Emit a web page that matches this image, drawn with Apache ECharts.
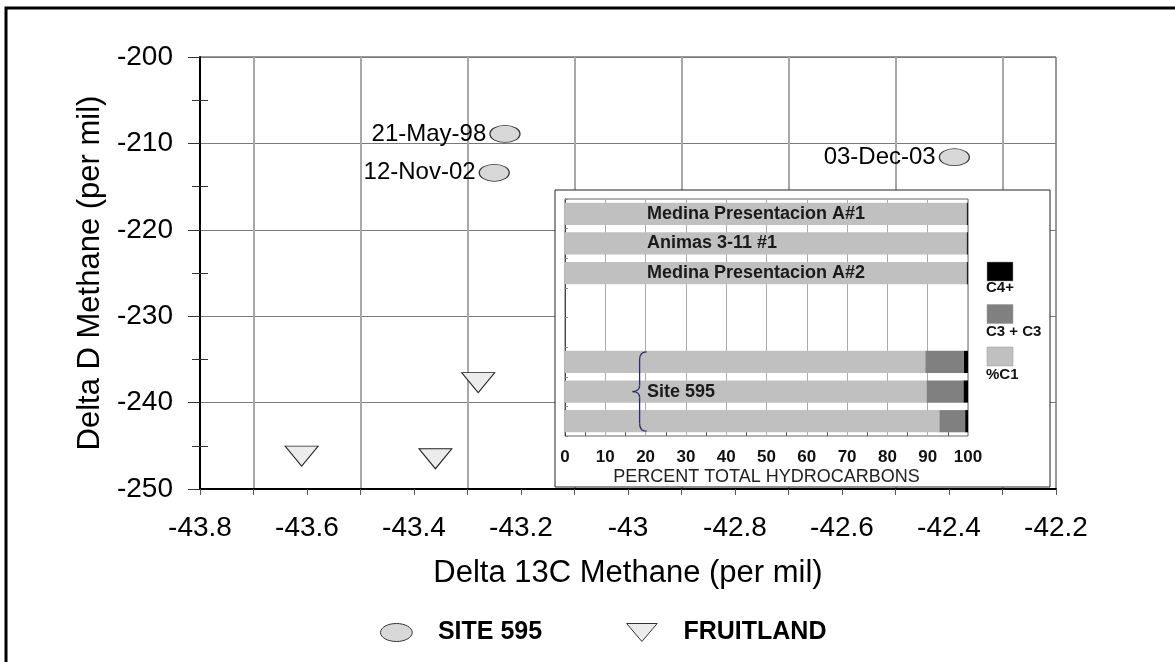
<!DOCTYPE html>
<html><head><meta charset="utf-8">
<script src="https://cdn.jsdelivr.net/npm/echarts@6/dist/echarts.min.js"></script>
<style>html,body{margin:0;padding:0;background:#fff}#c{width:1175px;height:662px}</style>
</head><body><div id="c"></div>
<script>
// Main scatter data
const siteNames = ['21-May-98', '12-Nov-02', '03-Dec-03'];
const siteX = [-43.23, -43.25, -42.39];
const siteY = [-208.9, -213.4, -211.6];
const fruitX = [-43.28, -43.61, -43.36];
const fruitY = [-237.7, -246.2, -246.5];
const seriesNames = ['SITE 595', 'FRUITLAND'];
// Main axes
const xMin = -43.8, xMax = -42.2, xStep = 0.2;
const yMin = -250, yMax = -200, yStep = 10;
// Inset bar chart data
const insetCats = ['Medina Presentacion A#1', 'Animas 3-11 #1', 'Medina Presentacion A#2', '', '', '', 'Site 595', ''];
const pctC1 = [99.6, 99.6, 99.6, null, null, 89.4, 89.7, 92.9];
const pctC3 = [0.2, 0.2, 0.2, null, null, 9.6, 9.2, 6.4];
const pctC4 = [0.2, 0.2, 0.2, null, null, 1.0, 1.1, 0.7];
const insetNames = ['%C1', 'C3 + C3', 'C4+'];
const insetColors = ['#c0c0c0', '#808080', '#000000'];
const slotIds = insetCats.map((c, i) => 'r' + i);

const FF = 'Liberation Sans, Arial, sans-serif';
const ELLIPSE = 'path://M0,8.5 C0,3.8 6.7,0 15,0 C23.3,0 30,3.8 30,8.5 C30,13.2 23.3,17 15,17 C6.7,17 0,13.2 0,8.5 Z';
const TRI_DOWN = 'path://M0,0 L34,0 L17,20 Z';
const chart = echarts.init(document.getElementById('c'));

const insetLegend = [];
[2, 1, 0].forEach((k, j) => {
  insetLegend.push({id: 'lgr' + k, type: 'rect', z: 3, shape: {x: 987, y: 262 + j * 42.5, width: 26, height: 19},
    style: {fill: insetColors[k], stroke: '#999', lineWidth: 0.5}});
  insetLegend.push({id: 'lgt' + k, type: 'text', z: 3, x: 986, y: 288 + j * 43.5,
    style: {text: insetNames[k], fontSize: 15, fontWeight: 'bold', fontFamily: FF, fill: '#111', verticalAlign: 'middle', align: 'left'}});
});

const option = {
  backgroundColor: '#fff',
  animation: false,
  textStyle: {fontFamily: FF},
  grid: [
    {left: 200, top: 57, width: 856, height: 432, show: true, borderColor: '#333', borderWidth: 1, backgroundColor: 'transparent', z: 0},
    {left: 565, top: 199, width: 403, height: 237, show: true, borderColor: '#666', borderWidth: 1, backgroundColor: 'transparent', z: 3}
  ],
  xAxis: [
    {gridIndex: 0, type: 'value', min: xMin, max: xMax, interval: xStep,
      axisLine: {lineStyle: {color: '#000', width: 2}},
      axisTick: {show: true, length: 6, lineStyle: {color: '#555'}},
      minorTick: {show: true, splitNumber: 2, length: 6, lineStyle: {color: '#555'}},
      splitLine: {show: false},
      minorSplitLine: {show: true, lineStyle: {color: '#a8a8a8', width: 2}},
      axisLabel: {fontSize: 28, margin: 25, color: '#000', fontFamily: FF},
      name: 'Delta 13C Methane (per mil)', nameLocation: 'middle', nameGap: 69,
      nameTextStyle: {fontSize: 31, color: '#000', fontFamily: FF}},
    {gridIndex: 1, type: 'value', min: 0, max: 100, interval: 10, z: 3,
      axisLine: {lineStyle: {color: '#444'}},
      axisTick: {inside: true, length: 4, lineStyle: {color: '#555'}},
      minorTick: {show: true, splitNumber: 2, length: 4, lineStyle: {color: '#555'}},
      splitLine: {show: true, lineStyle: {color: '#aaa'}},
      axisLabel: {fontSize: 17, fontWeight: 'bold', margin: 13, color: '#111', fontFamily: FF},
      name: 'PERCENT TOTAL HYDROCARBONS', nameLocation: 'middle', nameGap: 32,
      nameTextStyle: {fontSize: 18, color: '#222', fontFamily: FF}}
  ],
  yAxis: [
    {gridIndex: 0, type: 'value', position: 'left', min: yMin, max: yMax, interval: yStep,
      axisLine: {show: true, lineStyle: {color: '#000', width: 2}},
      axisTick: {show: true, length: 12, lineStyle: {color: '#333'}},
      minorTick: {show: true, splitNumber: 2, length: 8, lineStyle: {color: '#333'}},
      splitLine: {show: true, lineStyle: {color: '#7a7a7a', width: 1}},
      axisLabel: {fontSize: 28, margin: 27, color: '#000', fontFamily: FF},
      name: 'Delta D Methane (per mil)', nameLocation: 'middle', nameGap: 89,
      nameTextStyle: {fontSize: 31, color: '#000', fontFamily: FF}},
    {gridIndex: 0, type: 'value', position: 'left', min: yMin, max: yMax, interval: yStep,
      axisLine: {show: false}, axisTick: {show: false, inside: true},
      minorTick: {show: true, splitNumber: 2, length: 8, lineStyle: {color: '#333'}},
      splitLine: {show: false}, axisLabel: {show: false}},
    {gridIndex: 1, type: 'category', inverse: true, data: slotIds, z: 3,
      axisLabel: {show: false},
      axisTick: {show: true, inside: true, length: 3, lineStyle: {color: '#888'}},
      axisLine: {lineStyle: {color: '#444'}}}
  ],
  legend: {
    data: [{name: seriesNames[0], icon: ELLIPSE}, {name: seriesNames[1], icon: TRI_DOWN}],
    left: 380, top: 620, padding: 0, itemWidth: 33, itemHeight: 18, itemGap: 84,
    itemStyle: {borderColor: '#333', borderWidth: 1},
    textStyle: {fontSize: 25, fontWeight: 'bold', color: '#000', fontFamily: FF, padding: [0, 0, 0, 20]}
  },
  series: [
    {name: seriesNames[0], type: 'scatter', xAxisIndex: 0, yAxisIndex: 0, z: 5,
      symbol: 'circle', symbolSize: [30, 17],
      itemStyle: {color: '#d8d8d8', borderColor: '#333', borderWidth: 1, opacity: 1},
      label: {show: true, position: 'left', distance: 3, formatter: '{b}', fontSize: 24, color: '#000', fontFamily: FF},
      data: siteX.map((x, i) => ({name: siteNames[i], value: [x, siteY[i]]}))},
    {name: seriesNames[1], type: 'scatter', xAxisIndex: 0, yAxisIndex: 0, z: 5,
      symbol: TRI_DOWN, symbolSize: [33, 20],
      itemStyle: {color: '#ececec', borderColor: '#222', borderWidth: 1, opacity: 1},
      data: fruitX.map((x, i) => [x, fruitY[i]])},
    {name: insetNames[0], type: 'bar', stack: 'p', xAxisIndex: 1, yAxisIndex: 2, z: 4, barWidth: '75%',
      itemStyle: {color: insetColors[0]},
      label: {show: true, position: [82, '50%'], verticalAlign: 'middle', align: 'left',
        formatter: p => insetCats[p.dataIndex], fontSize: 18, fontWeight: 'bold', color: '#1a1a1a', fontFamily: FF},
      data: pctC1},
    {name: insetNames[1], type: 'bar', stack: 'p', xAxisIndex: 1, yAxisIndex: 2, z: 4, barWidth: '75%',
      itemStyle: {color: insetColors[1]}, data: pctC3},
    {name: insetNames[2], type: 'bar', stack: 'p', xAxisIndex: 1, yAxisIndex: 2, z: 4, barWidth: '75%',
      itemStyle: {color: insetColors[2]}, data: pctC4}
  ],
  graphic: {elements: [
    {id: 'outer', type: 'rect', z: 10, shape: {x: 6, y: 8, width: 1200, height: 700},
      style: {fill: 'none', stroke: '#000', lineWidth: 3}},
    {id: 'insetBox', type: 'rect', z: 2, shape: {x: 555, y: 190, width: 495, height: 297},
      style: {fill: '#fff', stroke: '#222', lineWidth: 1}}
  ].concat(insetLegend)}
};
chart.setOption(option);

// Brace grouping the Site 595 bars, placed via the inset axes
const p5 = chart.convertToPixel({xAxisIndex: 1, yAxisIndex: 2}, [20, slotIds[5]]);
const p6 = chart.convertToPixel({xAxisIndex: 1, yAxisIndex: 2}, [17, slotIds[6]]);
const p7 = chart.convertToPixel({xAxisIndex: 1, yAxisIndex: 2}, [20, slotIds[7]]);
const bxr = p5[0] + 1, bxm = p5[0] - 6, bxl = p6[0] - 1;
const bTop = p5[1] - 10, bBot = p7[1] + 10, bMid = p6[1];
const braceStyle = {fill: 'none', stroke: '#2b2b70', lineWidth: 1.3};
const braceParts = [
  {type: 'bezierCurve', shape: {x1: bxr, y1: bTop, cpx1: bxm, cpy1: bTop, x2: bxm, y2: bTop + 8}},
  {type: 'line', shape: {x1: bxm, y1: bTop + 8, x2: bxm, y2: bMid - 6}},
  {type: 'bezierCurve', shape: {x1: bxm, y1: bMid - 6, cpx1: bxm, cpy1: bMid, x2: bxl, y2: bMid}},
  {type: 'bezierCurve', shape: {x1: bxl, y1: bMid, cpx1: bxm, cpy1: bMid, x2: bxm, y2: bMid + 6}},
  {type: 'line', shape: {x1: bxm, y1: bMid + 6, x2: bxm, y2: bBot - 8}},
  {type: 'bezierCurve', shape: {x1: bxm, y1: bBot - 8, cpx1: bxm, cpy1: bBot, x2: bxr, y2: bBot}}
].map((e, i) => Object.assign(e, {id: 'brace' + i, z: 6, style: braceStyle}));
chart.setOption({graphic: {elements: braceParts}});
</script>
</body></html>
